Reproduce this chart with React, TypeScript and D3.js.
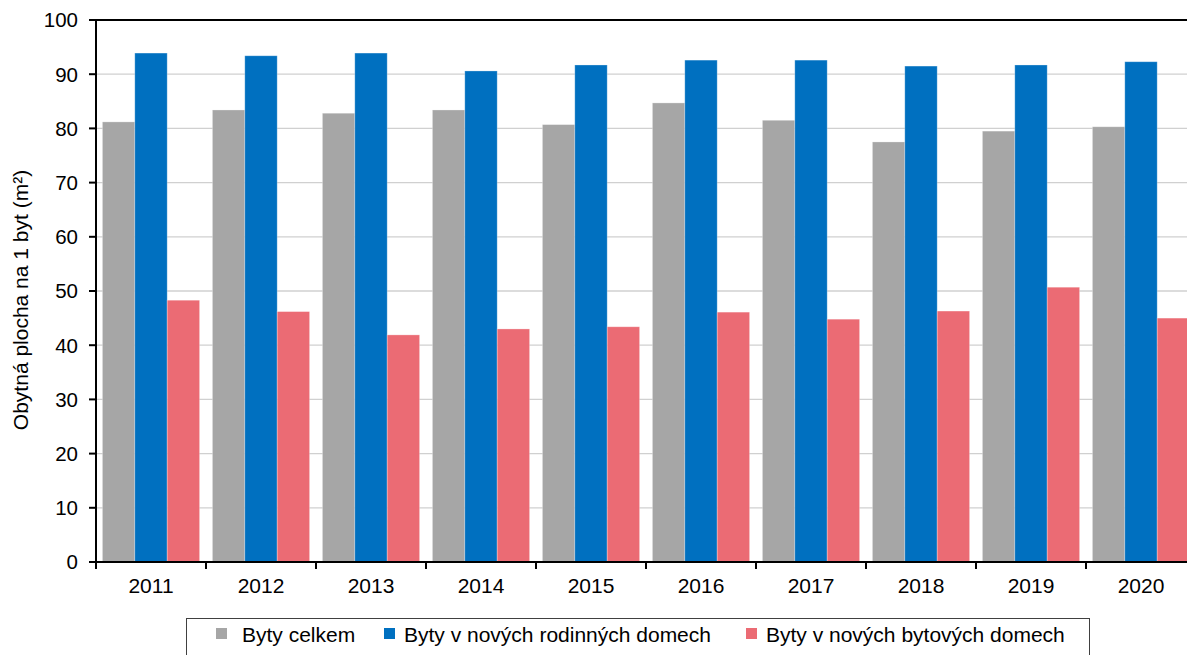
import React from "react";
import * as d3 from "d3";

const years = ["2011", "2012", "2013", "2014", "2015", "2016", "2017", "2018", "2019", "2020"];
const seriesNames = ["Byty celkem", "Byty v nových rodinných domech", "Byty v nových bytových domech"];
const bytyCelkem = [81.2, 83.4, 82.8, 83.4, 80.7, 84.7, 81.5, 77.5, 79.5, 80.3];
const rodinneDomy = [93.9, 93.4, 93.9, 90.6, 91.7, 92.6, 92.6, 91.5, 91.7, 92.3];
const bytoveDomy = [48.3, 46.2, 41.9, 43.0, 43.4, 46.1, 44.8, 46.3, 50.7, 45.0];
const yTicks = [0, 10, 20, 30, 40, 50, 60, 70, 80, 90, 100];
const colors = ["#a6a6a6", "#0070c0", "#eb6b74"];

const W = 1187;
const H = 655;
const left = 96;
const right = 1196;
const top = 20;
const bottom = 562;
const FONT = "'Liberation Sans', Arial, sans-serif";

export default function App() {
  const series = [bytyCelkem, rodinneDomy, bytoveDomy];
  const pIn = 12.8 / 110;
  const x0 = d3.scaleBand<string>().domain(years).range([left, right]).paddingInner(pIn).paddingOuter(pIn / 2);
  const x1 = d3.scaleBand<number>().domain([0, 1, 2]).range([0, x0.bandwidth()]).padding(0);
  const y = d3.scaleLinear().domain([0, 100]).range([bottom, top]);
  const step = x0.step();

  const legendItems = [
    { sx: 216, tx: 242 },
    { sx: 384, tx: 404 },
    { sx: 746, tx: 766 },
  ];

  return (
    <div style={{ position: "fixed", left: 0, top: 0 }}>
      <svg width={W} height={H} style={{ display: "block", background: "#fff" }}>
        {/* gridlines */}
        {yTicks.filter((t) => t > 0 && t < 100).map((t) => (
          <line key={"g" + t} x1={left} x2={W} y1={y(t)} y2={y(t)} stroke="#d0d0d0" strokeWidth={1.3} />
        ))}
        {/* bars */}
        {years.map((yr, i) => (
          <g key={yr} transform={`translate(${x0(yr)},0)`}>
            {series.map((s, k) => (
              <rect
                key={k}
                x={x1(k)}
                y={y(s[i])}
                width={x1.bandwidth()}
                height={y(0) - y(s[i])}
                fill={colors[k]}
                stroke="#ffffff"
                strokeOpacity={0.35}
                strokeWidth={0.8}
              />
            ))}
          </g>
        ))}
        {/* top border */}
        <line x1={left} x2={W} y1={top} y2={top} stroke="#000" strokeWidth={2} />
        {/* y axis */}
        <line x1={left} x2={left} y1={top - 1} y2={bottom + 1} stroke="#000" strokeWidth={2} />
        {yTicks.map((t) => (
          <g key={"t" + t}>
            <line x1={left - 7} x2={left} y1={y(t)} y2={y(t)} stroke="#000" strokeWidth={2} />
            <text x={78} y={y(t)} dy="0.36em" textAnchor="end" fontFamily={FONT} fontSize={20.5} fill="#000">
              {t}
            </text>
          </g>
        ))}
        {/* x axis */}
        <line x1={left - 7} x2={W} y1={bottom} y2={bottom} stroke="#000" strokeWidth={2} />
        {years.map((yr, i) => (
          <g key={"x" + yr}>
            <line x1={left + step * i} x2={left + step * i} y1={bottom} y2={bottom + 7} stroke="#000" strokeWidth={2} />
            <text x={(x0(yr) as number) + x0.bandwidth() / 2} y={593} textAnchor="middle" fontFamily={FONT} fontSize={21} fill="#000">
              {yr}
            </text>
          </g>
        ))}
        {/* y title */}
        <text
          transform={`translate(28,${(top + bottom) / 2 + 9}) rotate(-90)`}
          textAnchor="middle"
          fontFamily={FONT}
          fontSize={21}
          fill="#000"
        >
          Obytná plocha na 1 byt (m²)
        </text>
        {/* legend */}
        <rect x={186.5} y={618.5} width={903} height={60} fill="#fff" stroke="#404040" strokeWidth={1} />
        {seriesNames.map((name, k) => (
          <g key={name}>
            <rect x={legendItems[k].sx} y={628} width={11} height={11} fill={colors[k]} />
            <text x={legendItems[k].tx} y={642} fontFamily={FONT} fontSize={21} fill="#000">
              {name}
            </text>
          </g>
        ))}
      </svg>
    </div>
  );
}
